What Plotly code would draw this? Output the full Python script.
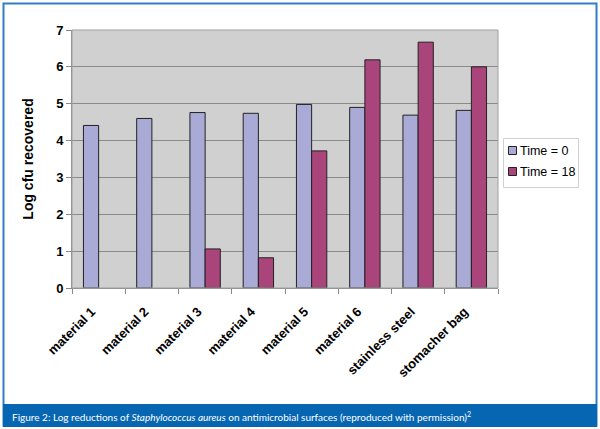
import plotly.graph_objects as go

categories = ["material 1", "material 2", "material 3", "material 4", "material 5",
              "material 6", "stainless steel", "stomacher bag"]
time0 = [4.41, 4.60, 4.76, 4.74, 4.98, 4.90, 4.69, 4.82]
time18 = [None, None, 1.06, 0.82, 3.72, 6.19, 6.67, 6.00]
y_ticks = [0, 1, 2, 3, 4, 5, 6, 7]
series_names = ["Time = 0", "Time = 18"]
series_colors = ["#aaaad6", "#a9457a"]

fig = go.Figure()
for name, vals, col in zip(series_names, [time0, time18], series_colors):
    fig.add_trace(go.Bar(x=categories, y=vals, name=name, showlegend=False,
                         marker=dict(color=col, line=dict(color="#222222", width=1))))

W, H = 600, 429
L, R, T, B = 72, 102, 30, 141
pw, ph = W - L - R, H - T - B

def px(x):
    return (x - L) / pw

def py(y):
    return (H - B - y) / ph

fig.update_layout(
    width=W, height=H,
    margin=dict(l=L, r=R, t=T, b=B, autoexpand=False),
    paper_bgcolor="white",
    plot_bgcolor="#d0d0d0",
    barmode="group",
    bargap=0.43,
    bargroupgap=0,
    font=dict(family="Arial, Liberation Sans", color="black"),
    showlegend=False,
)
fig.update_yaxes(range=[0, 7], tickvals=y_ticks, showgrid=True, gridcolor="#8a8a8a",
                 gridwidth=1, ticks="outside", ticklen=5, tickcolor="#888888",
                 showline=True, linecolor="#888888", linewidth=1, zeroline=False,
                 automargin=False,
                 tickfont=dict(size=13, family="Arial, Liberation Sans", weight="bold"),
                 title=dict(text="<b>Log cfu recovered</b>", standoff=19,
                            font=dict(size=14, family="Arial, Liberation Sans")))
fig.update_xaxes(tickangle=-45, ticks="outside", tickson="boundaries", ticklen=5,
                 tickcolor="#888888", showline=True, linecolor="#888888", linewidth=1,
                 automargin=False, ticklabelshift=-7, ticklabelstandoff=10,
                 tickfont=dict(size=13, family="Arial, Liberation Sans", weight="bold"))

shapes = [
    dict(type="rect", xref="paper", yref="paper", x0=0, x1=1, y0=0, y1=1,
         line=dict(color="#a0a0a0", width=1), layer="above"),
    dict(type="rect", xref="paper", yref="paper", x0=px(3.5), x1=px(596.5),
         y0=py(425.5), y1=py(3.5), line=dict(color="#2f7fc8", width=2)),
    dict(type="rect", xref="paper", yref="paper", x0=px(3), x1=px(597),
         y0=py(427), y1=py(404), fillcolor="#0766b2", line=dict(width=0)),
    # legend box
    dict(type="rect", xref="paper", yref="paper", x0=px(503.5), x1=px(578.5),
         y0=py(187.5), y1=py(138.5), fillcolor="white",
         line=dict(color="#d0d0d0", width=1)),
]
legend_rows = [151, 172]
for name, col, yc in zip(series_names, series_colors, legend_rows):
    shapes.append(dict(type="rect", xref="paper", yref="paper",
                       x0=px(508.5), x1=px(516.5), y0=py(yc + 3.5), y1=py(yc - 4.5),
                       fillcolor=col, line=dict(color="#222222", width=1)))
    fig.add_annotation(xref="paper", yref="paper", x=px(518), y=py(yc),
                       xanchor="left", yanchor="middle", showarrow=False,
                       text=name, font=dict(size=12.5, family="Arial, Liberation Sans",
                                            color="black"))
fig.update_layout(shapes=shapes)
fig.add_annotation(
    xref="paper", yref="paper", x=px(10), y=py(416), xanchor="left", yanchor="middle",
    showarrow=False,
    text="Figure 2: Log reductions of <i>Staphylococcus aureus</i> on antimicrobial surfaces (reproduced with permission)<sup>2</sup>",
    font=dict(family="Lato, Open Sans", size=10, color="white"),
)

fig.write_html("out.html", config={"displayModeBar": False},
               post_script="document.body.style.margin='0';document.body.style.padding='0';")
